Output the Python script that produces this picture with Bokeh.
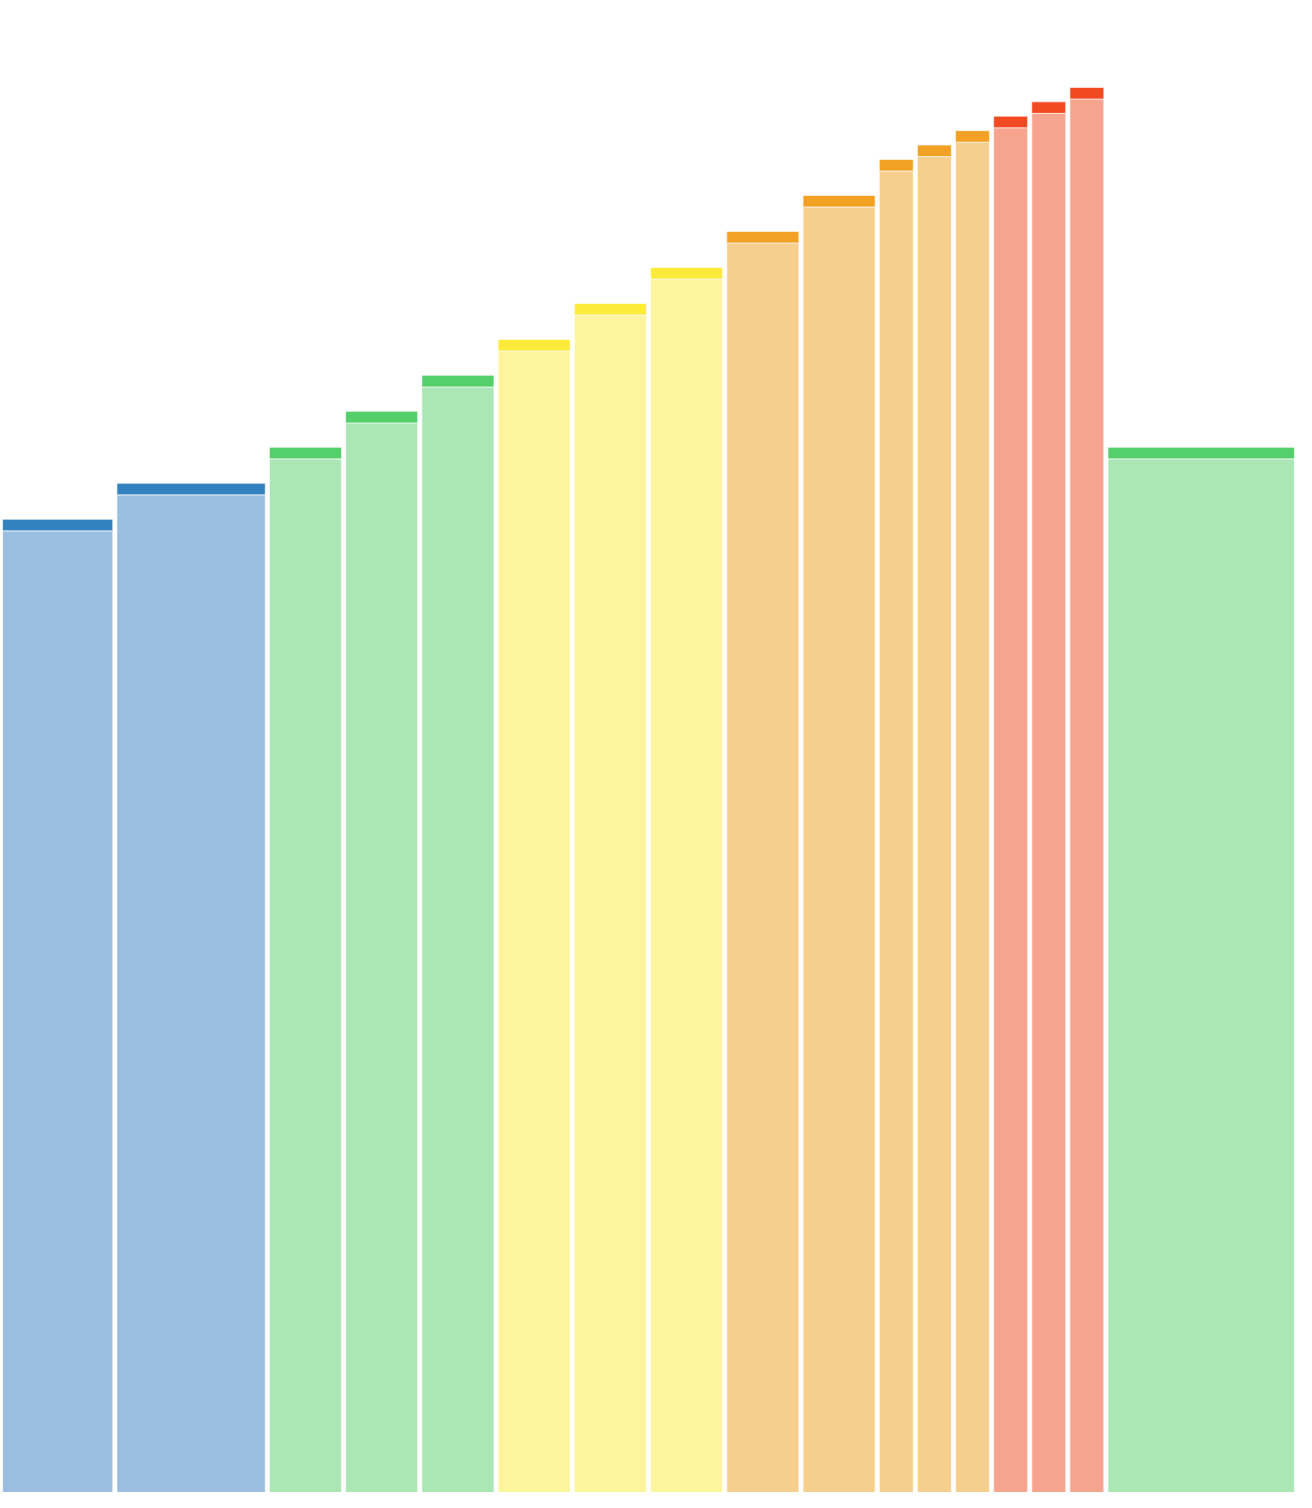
from bokeh.plotting import figure
from bokeh.models import ColumnDataSource, Range1d
from bokeh.embed import file_html
from bokeh.resources import INLINE

# Data
widths = [3, 4, 2, 2, 2, 2, 2, 2, 2, 2, 1, 1, 1, 1, 1, 1, 5]
totals = [67.6, 70.1, 72.6, 75.1, 77.6, 80.1, 82.6, 85.1, 87.6, 90.1,
          92.6, 93.6, 94.6, 95.6, 96.6, 97.6, 72.6]
cap_size = 0.8
groups = ["blue", "blue", "green", "green", "green", "yellow", "yellow", "yellow",
          "orange", "orange", "orange", "orange", "orange", "red", "red", "red", "green"]

light = {"blue": "#99bedf", "green": "#abe7b4", "yellow": "#fcf59d",
         "orange": "#f6cf8f", "red": "#f7a48e"}
dark = {"blue": "#3182bf", "green": "#55cf6b", "yellow": "#fdeb3b",
        "orange": "#f2a125", "red": "#f14a22"}

pad = 0.055
lefts, rights = [], []
pos = 0
for w in widths:
    lefts.append(pos + pad)
    rights.append(pos + w - pad)
    pos += w

body_src = ColumnDataSource(dict(
    left=lefts, right=rights, bottom=[0] * len(totals),
    top=[t - cap_size for t in totals],
    color=[light[g] for g in groups]))
cap_src = ColumnDataSource(dict(
    left=lefts, right=rights,
    bottom=[t - cap_size for t in totals], top=totals,
    color=[dark[g] for g in groups]))

p = figure(width=1296, height=1492, output_backend="svg", toolbar_location=None,
           x_range=Range1d(0, sum(widths)), y_range=Range1d(0, 103.64),
           min_border=0)
p.axis.visible = False
p.grid.visible = False
p.outline_line_color = None
p.background_fill_color = "white"
p.border_fill_color = "white"

p.quad(left="left", right="right", bottom="bottom", top="top", source=body_src,
       fill_color="color", line_color="white", line_width=1, line_alpha=0.6)
p.quad(left="left", right="right", bottom="bottom", top="top", source=cap_src,
       fill_color="color", line_color="white", line_width=1, line_alpha=0.6)

open("out.html", "w").write(file_html(p, INLINE))
